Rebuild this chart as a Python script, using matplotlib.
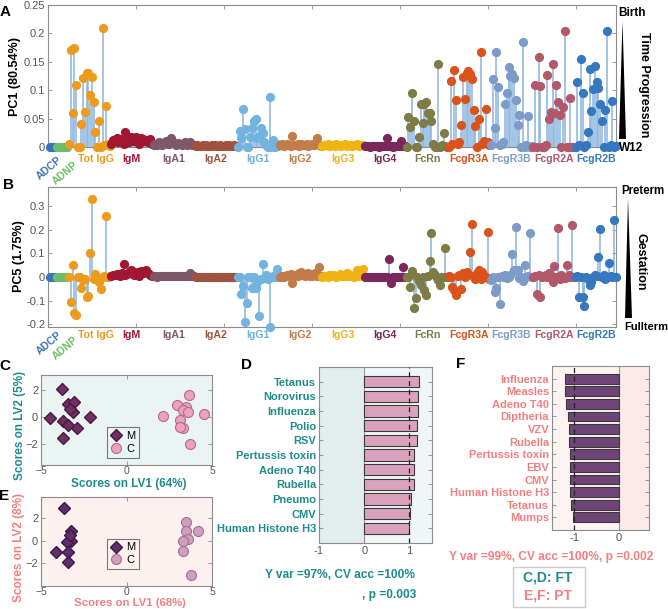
import matplotlib
matplotlib.use('Agg')
import matplotlib.pyplot as plt
import matplotlib.transforms as mtransforms
from matplotlib.patches import Polygon, Rectangle
import numpy as np

plt.rcParams['font.family'] = ['Liberation Sans', 'DejaVu Sans']

# ---------------- DATA ----------------
groups = ['ADCP', 'ADNP', 'Tot IgG', 'IgM', 'IgA1', 'IgA2', 'IgG1', 'IgG2', 'IgG3',
          'IgG4', 'FcRn', 'FcgR3A', 'FcgR3B', 'FcgR2A', 'FcgR2B']
group_colors = ['#3b74b9', '#6cbf6a', '#ee9b1d', '#a0172f', '#7e5769', '#a0533c',
                '#72b3e0', '#c27b49', '#f0b312', '#7a2859', '#7e7b47', '#da531a',
                '#7c9bc8', '#b25869', '#3578c0']

# PC1 loadings (panel A)
pc1_adcp = [0.0, 0.0, 0.0, 0.0]
pc1_adnp = [0.0, 0.0, 0.0, 0.0, 0.0, 0.0, 0.0]
pc1_tot_igg = [0.005, 0.17, 0.06, 0.175, 0.109, 0.0, 0.0, 0.04, 0.122, 0.061, 0.13, 0.131,
               0.092, 0.123, 0.079, 0.027, 0.0, 0.045, 0.0, 0.209, 0.003, 0.073, 0.005, 0.002]
pc1_igm = [0.005, 0.012, 0.01, 0.015, 0.008, 0.014, 0.01, 0.006, 0.026, 0.012, 0.008, 0.018,
           0.015, 0.01, 0.017, 0.012, 0.006, 0.016, 0.014, 0.01, 0.012, 0.008, 0.014, 0.006]
pc1_iga1 = [0.004, 0.006, 0.003, 0.008, 0.005, 0.004, 0.007, 0.01, 0.006, 0.005, 0.016, 0.008,
            0.006, 0.004, 0.007, 0.005, 0.003, 0.006, 0.009, 0.004, 0.005, 0.008, 0.003, 0.004]
pc1_iga2 = [0.002, 0.003, 0.001, 0.002, 0.004, 0.002, 0.003, 0.001, 0.002, 0.003, 0.002, 0.004,
            0.001, 0.002, 0.003, 0.002, 0.001, 0.003, 0.002, 0.004, 0.002, 0.001, 0.003, 0.002]
pc1_igg1 = [0.0, 0.029, 0.016, 0.067, 0.031, 0.0, 0.0, 0.018, 0.033, 0.045, 0.05, 0.015,
            0.02, 0.033, 0.025, 0.008, 0.004, 0.0, 0.088, 0.0, 0.012, 0.0, 0.005, 0.002]
pc1_igg2 = [0.003, 0.005, 0.002, 0.004, 0.006, 0.003, 0.002, 0.02, 0.004, 0.003, 0.005, 0.002,
            0.006, 0.004, 0.003, 0.005, 0.002, 0.004, 0.006, 0.003, 0.005, 0.016, 0.004, 0.002]
pc1_igg3 = [0.002, 0.004, 0.003, 0.005, 0.002, 0.003, 0.004, 0.002, 0.005, 0.003, 0.002, 0.004,
            0.003, 0.005, 0.002, 0.004, 0.003, 0.002, 0.004, 0.003, 0.005, 0.002, 0.003, 0.004]
pc1_igg4 = [0.001, 0.002, 0.001, 0.0, 0.002, 0.001, 0.002, 0.001, 0.0, 0.002, 0.001, 0.002,
            0.001, 0.016, 0.002, 0.001, 0.0, 0.002, 0.001, 0.002, 0.001, 0.011, 0.002, 0.001]
pc1_fcrn = [0.0, 0.052, 0.035, 0.095, 0.046, 0.0, 0.0, 0.017, 0.075, 0.042, 0.075, 0.079,
            0.059, 0.059, 0.046, 0.005, 0.0, 0.0, 0.147, 0.0, 0.004, 0.024, 0.002, 0.0]
pc1_fcgr3a = [0.0, 0.116, 0.005, 0.136, 0.083, 0.005, 0.008, 0.039, 0.123, 0.084, 0.131, 0.133,
              0.129, 0.119, 0.066, 0.037, 0.0, 0.05, 0.167, 0.005, 0.01, 0.067, 0.008, 0.003]
pc1_fcgr3b = [0.003, 0.119, 0.033, 0.168, 0.105, 0.003, 0.005, 0.008, 0.076, 0.095, 0.14, 0.125,
              0.129, 0.121, 0.082, 0.039, 0.057, 0.0, 0.184, 0.0, 0.003, 0.055, 0.0, 0.002]
pc1_fcgr2a = [0.0, 0.109, 0.0, 0.159, 0.107, 0.0, 0.0, 0.003, 0.127, 0.049, 0.061, 0.147,
              0.06, 0.11, 0.08, 0.057, 0.0, 0.071, 0.205, 0.0, 0.0, 0.086, 0.0, 0.0]
pc1_fcgr2b = [0.0, 0.115, 0.003, 0.155, 0.095, 0.0, 0.003, 0.026, 0.137, 0.063, 0.102, 0.143,
              0.115, 0.104, 0.076, 0.046, 0.0, 0.065, 0.204, 0.0, 0.003, 0.081, 0.0, 0.002]

# PC5 loadings (panel B)
pc5_adcp = [0.0, 0.0, 0.0, 0.0]
pc5_adnp = [0.0, 0.0, 0.0, 0.0, 0.0, 0.0, 0.0]
pc5_tot_igg = [0.0, -0.107, 0.051, -0.154, -0.161, 0.0, 0.0, -0.048, -0.013, -0.01, -0.086, -0.079,
               0.1, 0.329, -0.008, 0.011, -0.01, -0.02, -0.052, 0.0, 0.005, 0.26, 0.0, 0.003]
pc5_igm = [0.005, 0.01, 0.008, 0.012, 0.01, 0.005, 0.015, 0.053, 0.008, 0.012, 0.02, 0.03,
           0.025, 0.01, 0.018, 0.02, 0.005, 0.025, 0.015, 0.022, 0.03, 0.018, 0.01, 0.005]
pc5_iga1 = [0.002, 0.003, 0.001, 0.004, 0.002, 0.003, 0.005, 0.002, 0.004, 0.003, 0.006, 0.002,
            0.004, 0.003, 0.005, 0.002, 0.003, 0.004, 0.002, 0.005, 0.003, 0.015, 0.004, 0.002]
pc5_iga2 = [0.0, 0.001, 0.0, 0.001, 0.0, 0.001, 0.0, 0.0, 0.001, 0.0, 0.001, 0.0,
            0.0, 0.001, 0.0, 0.001, 0.0, 0.0, 0.001, 0.0, 0.001, 0.0, 0.0, 0.001]
pc5_igg1 = [0.0, 0.0, -0.073, -0.038, -0.189, -0.111, 0.0, 0.0, -0.048, 0.0, -0.045, -0.02,
            -0.165, -0.01, 0.054, -0.005, 0.01, -0.01, -0.21, 0.0, 0.005, 0.0, 0.033, 0.0]
pc5_igg2 = [0.0, 0.005, 0.0, 0.002, 0.008, 0.003, 0.012, -0.025, 0.005, 0.01, 0.006, 0.015,
            0.02, 0.008, 0.004, 0.012, 0.018, 0.005, 0.003, 0.01, 0.015, 0.006, 0.043, 0.004]
pc5_igg3 = [0.0, 0.002, 0.005, 0.0, 0.008, 0.003, 0.01, 0.004, 0.0, 0.006, 0.012, 0.003,
            0.008, 0.002, 0.015, 0.005, 0.01, 0.003, 0.0, 0.006, 0.03, 0.004, 0.018, 0.035]
pc5_igg4 = [0.0, 0.001, 0.0, 0.0, 0.001, 0.0, 0.0, 0.001, 0.0, 0.0, 0.001, 0.0,
            0.0, 0.0, 0.075, -0.024, 0.0, 0.001, 0.0, 0.0, 0.001, 0.0, 0.044, 0.0]
pc5_fcrn = [0.0, 0.0, -0.044, 0.027, -0.13, -0.09, 0.0, -0.018, -0.034, 0.0, -0.057, -0.075,
            0.005, 0.069, 0.185, 0.02, 0.01, -0.005, -0.015, -0.032, 0.0, 0.0, 0.124, 0.0]
pc5_fcgr3a = [0.005, 0.0, -0.044, -0.055, -0.076, 0.005, 0.01, -0.052, 0.016, 0.0, 0.02, 0.01,
              0.107, 0.223, 0.005, -0.008, 0.015, 0.03, -0.01, 0.02, 0.005, 0.0, 0.192, -0.01]
pc5_fcgr3b = [-0.013, 0.0, -0.065, -0.048, 0.0, -0.114, 0.005, 0.0, 0.01, -0.005, 0.0, 0.01,
              0.097, 0.03, 0.213, 0.03, -0.005, 0.0, -0.018, 0.051, 0.0, 0.005, 0.185, 0.0]
pc5_fcgr2a = [0.0, 0.005, -0.073, 0.01, -0.083, 0.0, 0.005, 0.01, 0.0, 0.015, 0.005, -0.02,
              0.047, 0.0, 0.206, -0.01, 0.01, 0.0, -0.005, 0.05, 0.01, 0.0, 0.22, 0.0]
pc5_fcgr2b = [0.0, 0.005, -0.086, 0.0, -0.083, -0.123, 0.0, -0.01, -0.036, -0.02, 0.0, 0.01,
              0.005, 0.086, 0.202, 0.0, 0.01, -0.01, 0.0, 0.058, 0.005, 0.0, 0.242, 0.0]

pc1_groups = [pc1_adcp, pc1_adnp, pc1_tot_igg, pc1_igm, pc1_iga1, pc1_iga2, pc1_igg1, pc1_igg2,
              pc1_igg3, pc1_igg4, pc1_fcrn, pc1_fcgr3a, pc1_fcgr3b, pc1_fcgr2a, pc1_fcgr2b]
pc5_groups = [pc5_adcp, pc5_adnp, pc5_tot_igg, pc5_igm, pc5_iga1, pc5_iga2, pc5_igg1, pc5_igg2,
              pc5_igg3, pc5_igg4, pc5_fcrn, pc5_fcgr3a, pc5_fcgr3b, pc5_fcgr2a, pc5_fcgr2b]

# PLS-DA scores (panels C and E)
c_m_lv1 = [-3.75, -3.4, -3.05, -3.1, -4.5, -2.15, -3.7, -3.45, -2.9, -3.7, -3.3]
c_m_lv2 = [2.1, 1.0, 1.1, 0.35, -0.1, 0.03, -0.3, -0.6, -0.85, -1.55, 0.6]
c_c_lv1 = [3.67, 2.93, 3.5, 3.3, 3.6, 4.53, 2.11, 3.14, 3.33, 3.1, 3.7]
c_c_lv2 = [1.65, 0.9, 0.73, 0.53, 0.4, 0.2, 0.08, -0.23, -0.85, -0.75, -2.03]
e_m_lv1 = [-3.64, -3.25, -3.25, -3.5, -4.12, -3.4, -3.4, -3.3]
e_m_lv2 = [2.88, 0.83, 0.0, -0.15, -1.02, -1.02, -1.9, 0.5]
e_c_lv1 = [3.46, 3.5, 4.2, 3.57, 3.3, 3.3, 3.75]
e_c_lv2 = [1.67, 0.88, 0.88, 0.12, -0.06, -0.88, -3.0]

# VIP / loadings bars (panels D and F)
d_labels = ['Tetanus', 'Norovirus', 'Influenza', 'Polio', 'RSV', 'Pertussis toxin',
            'Adeno T40', 'Rubella', 'Pneumo', 'CMV', 'Human Histone H3']
d_values = [1.21, 1.18, 1.18, 1.16, 1.16, 1.11, 1.10, 1.10, 1.04, 1.02, 1.0]
f_labels = ['Influenza', 'Measles', 'Adeno T40', 'Diptheria', 'VZV', 'Rubella',
            'Pertussis toxin', 'EBV', 'CMV', 'Human Histone H3', 'Tetanus', 'Mumps']
f_values = [-1.2, -1.2, -1.18, -1.14, -1.12, -1.11, -1.10, -1.09, -1.09, -1.09, -1.07, -1.03]

# ---------------- STYLE ----------------
W, H = 668, 609
fig = plt.figure(figsize=(W / 100, H / 100), dpi=100)
TEAL = '#1e8c8c'
PINK = '#f47f80'
STEM = '#8ab4e0'
SPINE = '#8c8c8c'
TICKC = '#555555'


def ax_px(l, t, r, b):
    return fig.add_axes([l / W, 1 - b / H, (r - l) / W, (b - t) / H])


def style(ax, fs=8):
    for s in ax.spines.values():
        s.set_color(SPINE)
        s.set_linewidth(0.8)
    ax.tick_params(direction='in', top=True, right=True, length=3, width=0.6,
                   color=SPINE, labelcolor=TICKC, labelsize=fs, pad=2)


def stem_panel(ax, data):
    x0 = 1
    for col, vals in zip(group_colors, data):
        xs = np.arange(x0, x0 + len(vals))
        ax.vlines(xs, 0, vals, color=STEM, lw=1.1, zorder=2)
        ax.plot(xs, vals, 'o', ms=5.6, mfc=col, mec=col, zorder=3, clip_on=False)
        x0 += len(vals)
    return x0 - 1


def group_labels(ax, data, yfrac):
    trans = mtransforms.blended_transform_factory(ax.transData, ax.transAxes)
    x0 = 1
    for name, col, vals in zip(groups, group_colors, data):
        c = x0 + (len(vals) - 1) / 2
        x0 += len(vals)
        if name in ('ADCP', 'ADNP'):
            continue
        if name == 'Tot IgG':
            c += 3.5
        ax.text(c, yfrac, name, transform=trans, ha='center', va='center',
                color=col, fontsize=7.6, fontweight='bold', clip_on=False)


# ---------------- Panel A ----------------
axA = ax_px(48, 5, 616, 147)
n = stem_panel(axA, pc1_groups)
axA.set_xlim(0, n)
axA.set_ylim(0, 0.25)
axA.set_xticks([50, 100, 150, 200, 250, 300])
axA.set_xticklabels([])
axA.set_yticks([0, 0.05, 0.1, 0.15, 0.2, 0.25])
axA.set_yticklabels(['0', '0.05', '0.1', '0.15', '0.2', '0.25'])
style(axA)
group_labels(axA, pc1_groups, (147 - 159) / 142)

# ---------------- Panel B ----------------
axB = ax_px(48, 187, 616, 327)
stem_panel(axB, pc5_groups)
axB.set_xlim(0, n)
axB.set_ylim(-0.212, 0.381)
axB.set_xticks([50, 100, 150, 200, 250, 300])
axB.set_xticklabels([])
axB.set_yticks([-0.2, -0.1, 0, 0.1, 0.2, 0.3])
axB.set_yticklabels(['-0.2', '-0.1', '0', '0.1', '0.2', '0.3'])
style(axB)
group_labels(axB, pc5_groups, (327 - 335.5) / 140)


# ---------------- Panels C / E ----------------
def score_panel(ax, mx, my, cx, cy, bg, mcol, medge, ccol, cedge, ylim, legpos):
    ax.set_facecolor(bg)
    ax.plot(mx, my, 'D', ms=6.6, mfc=mcol, mec=medge, mew=1.0, ls='none', label='M', zorder=3)
    ax.plot(cx, cy, 'o', ms=7.2, mfc=ccol, mec=cedge, mew=0.8, ls='none', label='C', zorder=3)
    ax.set_xlim(-5, 5)
    ax.set_ylim(*ylim)
    ax.set_xticks([-5, 0, 5])
    ax.set_yticks([-2, 0, 2])
    style(ax)
    ax.tick_params(axis='x', pad=1.0, labelsize=7.5)
    leg = ax.legend(loc='lower left', bbox_to_anchor=legpos, fontsize=8, frameon=True,
                    fancybox=False, edgecolor='#777777', facecolor=bg, framealpha=1,
                    handlelength=1.0, handletextpad=0.4, borderpad=0.35, labelspacing=0.25,
                    borderaxespad=0)
    leg.get_frame().set_linewidth(0.8)


axC = ax_px(41, 375, 212, 465)
score_panel(axC, c_m_lv1, c_m_lv2, c_c_lv1, c_c_lv2, '#eaf4f3', '#6e2f63', '#4b1a43',
            '#eba3bd', '#b56a87', (-3.6, 3.15), (0.384, 0.081))
axE = ax_px(41, 497, 212, 586)
score_panel(axE, e_m_lv1, e_m_lv2, e_c_lv1, e_c_lv2, '#fdf1ef', '#5e2e68', '#3f1848',
            '#cf9fbd', '#a57090', (-4.0, 3.85), (0.386, 0.19))


# ---------------- Panels D / F ----------------
def bar_panel(ax, labels, values, bg, bg2, span, barcol, labcol, xlim, xticks, dash):
    ax.set_facecolor(bg)
    ax.axvspan(span[0], span[1], color=bg2, zorder=0, lw=0)
    pos = np.arange(1, len(values) + 1)
    ax.barh(pos, values, height=0.78, color=barcol, edgecolor='#3a3a3a', lw=0.8, zorder=2)
    ax.axvline(0, color='#9a9a9a', lw=0.8, zorder=1)
    ax.axvline(dash, color='#222222', lw=0.9, ls=(0, (4, 3)), zorder=3)
    ax.set_ylim(len(values) + 1, 0)
    ax.set_xlim(*xlim)
    ax.set_xticks(xticks)
    ax.set_xticklabels([str(t) for t in xticks])
    ax.set_yticks(pos)
    ax.set_yticklabels(labels)
    style(ax)
    ax.tick_params(axis='x', top=False)
    for t in ax.get_yticklabels():
        t.set_color(labcol)
        t.set_fontweight('bold')
        t.set_fontsize(8)


axD = ax_px(319, 367, 432, 543)
bar_panel(axD, d_labels, d_values, '#eef6f6', '#e2eeed', (-1, 0), '#dca1bd', TEAL,
          (-1, 1.5), [-1, 0, 1], 1)
axF = ax_px(552, 366, 649, 530)
bar_panel(axF, f_labels, f_values, '#fdf3f1', '#fbebe8', (0, 0.67), '#6f4479', PINK,
          (-1.5, 0.67), [-1, 0], -1)

# ---------------- Overlay texts ----------------
ov = fig.add_axes([0, 0, 1, 1], zorder=10)
ov.set_xlim(0, W)
ov.set_ylim(H, 0)
ov.axis('off')
ov.patch.set_alpha(0)

for lab, (x, y) in {'A': (5.5, 12.5), 'B': (8.5, 185), 'C': (5, 366), 'D': (247, 365),
                    'E': (4.5, 496), 'F': (460.5, 364.5)}.items():
    ov.text(x, y, lab, fontsize=11, fontweight='bold', ha='center', va='center')

ov.text(15, 77, 'PC1 (80.54%)', rotation=90, fontsize=9, fontweight='bold', ha='center', va='center')
ov.text(19, 256, 'PC5 (1.75%)', rotation=90, fontsize=9, fontweight='bold', ha='center', va='center')

# rotated ADCP / ADNP labels
for (x, y), name, col in [((57, 155), 'ADCP', group_colors[0]), ((73, 160), 'ADNP', group_colors[1]),
                          ((57, 330), 'ADCP', group_colors[0]), ((73, 335), 'ADNP', group_colors[1])]:
    ov.text(x, y, name, rotation=40, rotation_mode='anchor', ha='right', va='top',
            color=col, fontsize=7.6, fontweight='bold')

# right-side gradient annotations
ov.text(618, 13, 'Birth', fontsize=8.5, fontweight='bold', ha='left', va='center')
ov.text(619, 148, 'W12', fontsize=8.5, fontweight='bold', ha='left', va='center')
ov.add_patch(Polygon([[622.5, 21], [619, 139], [626, 139]], closed=True, color='black', lw=0))
ov.text(644, 85, 'Time Progression', rotation=-90, fontsize=9, fontweight='bold', ha='center', va='center')

ov.text(621, 191, 'Preterm', fontsize=8.3, fontweight='bold', ha='left', va='center')
ov.text(624, 327, 'Fullterm', fontsize=8.0, fontweight='bold', ha='left', va='center')
ov.add_patch(Polygon([[628, 198], [625, 318], [632, 318]], closed=True, color='black', lw=0))
ov.text(641, 262, 'Gestation', rotation=-90, fontsize=9, fontweight='bold', ha='center', va='center')

# axis labels for score plots
ov.text(129, 483.5, 'Scores on LV1 (64%)', fontsize=8.5, fontweight='bold', color=TEAL, ha='center', va='center')
ov.text(20, 425, 'Scores on LV2 (5%)', rotation=90, fontsize=8.5, fontweight='bold', color=TEAL, ha='center', va='center')
ov.text(130, 603.5, 'Scores on LV1 (68%)', fontsize=8.2, fontweight='bold', color=PINK, ha='center', va='center')
ov.text(19.5, 547, 'Scores on LV2 (8%)', rotation=90, fontsize=8.5, fontweight='bold', color=PINK, ha='center', va='center')

# model statistics
ov.text(340, 575, 'Y var =97%, CV acc =100%', fontsize=8.6, fontweight='bold', color=TEAL, ha='center', va='center')
ov.text(389, 595, ', p =0.003', fontsize=8.6, fontweight='bold', color=TEAL, ha='center', va='center')
ov.text(551.5, 557, 'Y var =99%, CV acc =100%, p =0.002', fontsize=8.6, fontweight='bold', color=PINK,
        ha='center', va='center')

# key box
ov.add_patch(Rectangle((513, 567), 72, 40, fill=True, facecolor='white', edgecolor='#cccccc', lw=1.0))
ov.text(548, 577.5, 'C,D: FT', fontsize=10, fontweight='bold', color=TEAL, ha='center', va='center')
ov.text(548, 596, 'E,F: PT', fontsize=10, fontweight='bold', color=PINK, ha='center', va='center')

fig.savefig('out.png', dpi=100)
